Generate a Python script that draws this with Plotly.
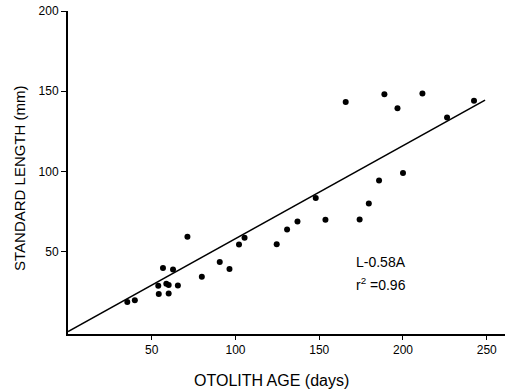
import plotly.graph_objects as go

# Otolith age (days) and standard length (mm)
age = [35.4, 39.9, 53.9, 54.2, 56.7, 58.7, 60.1, 60.1, 62.7, 65.6,
       71.3, 79.9, 90.6, 96.4, 102.1, 105.4, 124.6, 130.8, 137.0, 147.9,
       153.7, 165.8, 174.1, 179.6, 185.7, 188.9, 196.7, 200.0, 211.6, 226.3,
       242.4]
length = [18.4, 19.5, 28.6, 23.5, 39.6, 29.9, 29.0, 23.8, 38.8, 28.8,
          59.2, 34.2, 43.4, 39.0, 54.3, 58.5, 54.5, 63.7, 68.7, 83.4,
          69.7, 143.3, 70.0, 79.9, 94.3, 148.1, 139.4, 99.0, 148.5, 133.6,
          144.0]

# Regression L = 0.58 A
slope = 0.58
fit_age = [0, 249]
fit_len = [slope * a for a in fit_age]

x_ticks = [50, 100, 150, 200, 250]
y_ticks = [50, 100, 150, 200]

FONT = "Liberation Sans, Arial, Helvetica, sans-serif"

fig = go.Figure()
fig.add_trace(go.Scatter(x=fit_age, y=fit_len, mode="lines",
                         line=dict(color="black", width=1.6),
                         showlegend=False, hoverinfo="skip"))
fig.add_trace(go.Scatter(x=age, y=length, mode="markers",
                         marker=dict(color="black", size=6),
                         showlegend=False))

fig.update_layout(
    width=509, height=390,
    margin=dict(l=68, r=4, t=11, b=56),
    paper_bgcolor="white", plot_bgcolor="white",
    font=dict(family=FONT, color="black", size=12),
    xaxis=dict(range=[0, 260.9], tickvals=x_ticks, showgrid=False, zeroline=False,
               showline=True, linecolor="black", linewidth=1.5,
               ticks="outside", ticklen=4, tickwidth=1, tickcolor="black",
               tickfont=dict(size=12)),
    yaxis=dict(range=[-1.5, 200], tickvals=y_ticks, showgrid=False, zeroline=False,
               showline=True, linecolor="black", linewidth=2,
               ticks="outside", ticklen=5, tickwidth=1, tickcolor="black",
               tickfont=dict(size=12)),
    annotations=[
        dict(text="OTOLITH AGE (days)", xref="paper", yref="paper",
             x=0.466, y=-0.1455, xanchor="center", yanchor="middle",
             showarrow=False, font=dict(size=16)),
        dict(text="STANDARD LENGTH (mm)", xref="paper", yref="paper",
             x=-0.1098, y=0.483, xanchor="center", yanchor="middle",
             textangle=-90, showarrow=False, font=dict(size=15)),
        dict(text="L-0.58A", xref="x", yref="y", x=170.6, y=43.7,
             xanchor="left", yanchor="middle", showarrow=False,
             font=dict(size=14)),
        dict(text="r<sup>2</sup> =0.96", xref="x", yref="y", x=170.6, y=30.0,
             xanchor="left", yanchor="middle", showarrow=False,
             font=dict(size=14)),
    ],
)

fig.write_html("out.html", config={"displayModeBar": False},
               post_script="document.body.style.margin='0';document.body.style.overflow='hidden';")
